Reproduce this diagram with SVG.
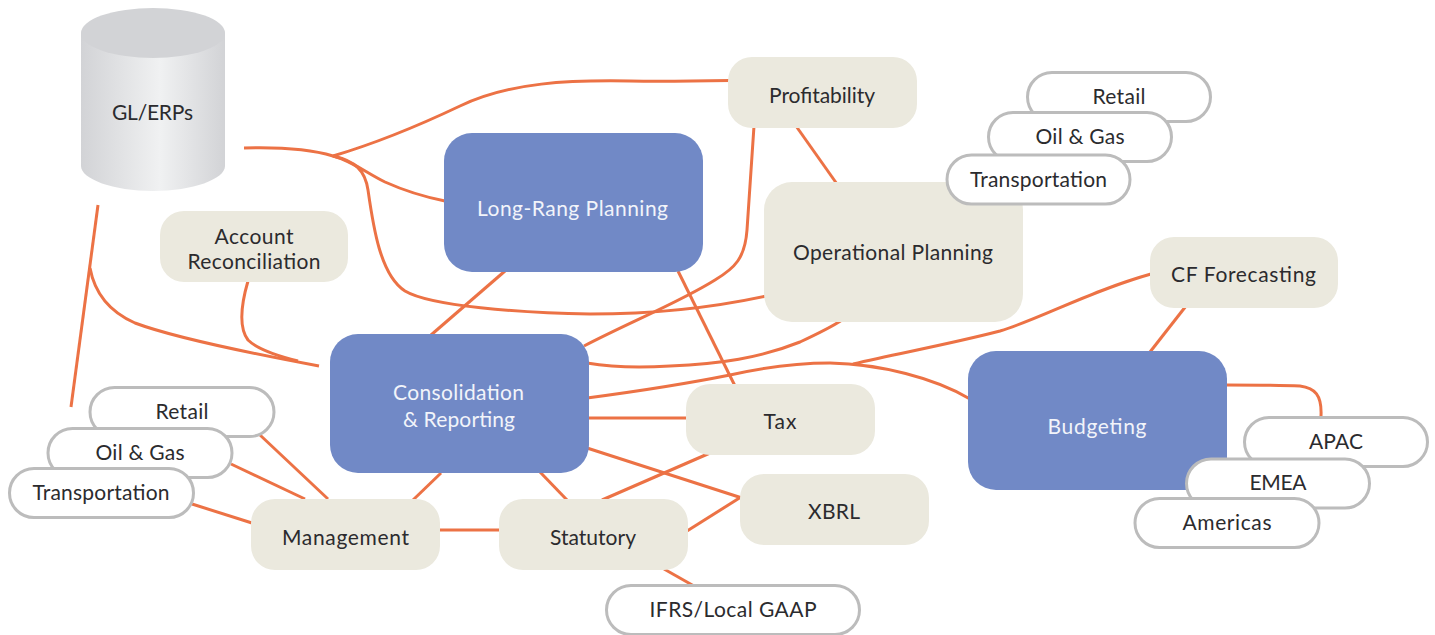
<svg xmlns="http://www.w3.org/2000/svg" width="1435" height="635" viewBox="0 0 1435 635">
<style>
text{font-family:"Lato","Noto Sans",sans-serif;font-size:21px;fill:#2b2b2e;text-anchor:middle}
.b rect{fill:#7189c6}
.b text{fill:#f2f4fa}
.t rect{fill:#ebe9de}
.p rect{fill:#fff;stroke:#bcbcbc;stroke-width:3}
#connectors path{fill:none;stroke:#ec7245;stroke-width:3}
</style>
<defs>
<linearGradient id="cyl" x1="0" x2="1" y1="0" y2="0">
<stop offset="0" stop-color="#d2d3d6"/><stop offset="0.55" stop-color="#f0f1f2"/><stop offset="1" stop-color="#d2d3d6"/>
</linearGradient>
</defs>
<g id="connectors">
<path d="M244 148C280 147 310 149 333 156C370 145 420 125 460 106C510 82 570 80 630 81C665 81.500 700 81 730 80.500"/>
<path d="M333 156C352 161 365 172 385 182C405 191 425 197 445 201"/>
<path d="M333 156C355 161 365 170 368 190C373 225 380 275 405 291C430 306 520 313 590 314C660 314 720 306 766 296"/>
<path d="M98 205L71 407"/>
<path d="M90 268C95 295 110 312 135 323C175 338 260 355 319 366"/>
<path d="M248 281C241 305 239 328 248 340C258 350 278 356 298 361"/>
<path d="M505 271L431 335"/>
<path d="M678 271L735 386"/>
<path d="M754 126L747 230C745 258 735 268 715 280C680 302 630 322 584 346"/>
<path d="M796 126L837 184"/>
<path d="M587 363C610 367 640 368 670 366C720 364 760 358 800 342C815 335 830 328 842 320"/>
<path d="M587 398C640 391 690 383 730 375C770 366 800 363 830 363C880 364 935 378 970 399"/>
<path d="M853 364C900 353 950 344 1000 331C1040 319 1090 291 1151 274"/>
<path d="M1186 306L1150 352"/>
<path d="M1226 385C1250 385 1280 385 1300 386C1315 388 1322 395 1321 416"/>
<path d="M587 418L688 418"/>
<path d="M587 448L742 498"/>
<path d="M710 453L602 500"/>
<path d="M540 472L567 500"/>
<path d="M441 473L413 500"/>
<path d="M438 530L500 530"/>
<path d="M687 531L741 497"/>
<path d="M664 569L694 586"/>
<path d="M260 435L328 499"/>
<path d="M231 464L305 499"/>
<path d="M192 504L252 523"/>
</g>
<g id="gl-erps">
<path d="M81 33V166C81 179 113 191 153 191C193 191 225 179 225 166V33Z" fill="url(#cyl)"/>
<ellipse cx="153" cy="33" rx="72" ry="25" fill="#d2d3d6"/>
<text x="152.500" y="120" textLength="81">GL/ERPs</text>
</g>
<g id="profitability" class="t"><rect x="728" y="57" width="189" height="71" rx="24"/><text x="822" y="103" textLength="106">Profitability</text></g>
<g id="long-range" class="b"><rect x="444" y="133" width="259" height="139" rx="28"/><text x="572.500" y="216" textLength="191">Long-Rang Planning</text></g>
<g id="operational" class="t"><rect x="764" y="182" width="259" height="140" rx="28"/><text x="893" y="260" textLength="200">Operational Planning</text></g>
<g id="op-retail" class="p"><rect x="1027.500" y="72.500" width="183" height="49" rx="24.500"/><text x="1119" y="104" textLength="53">Retail</text></g>
<g id="op-oil" class="p"><rect x="988.500" y="112.500" width="183" height="49" rx="24.500"/><text x="1080" y="144" textLength="89">Oil &amp; Gas</text></g>
<g id="op-transport" class="p"><rect x="947" y="155" width="183" height="49" rx="24.500"/><text x="1038.500" y="187" textLength="137">Transportation</text></g>
<g id="account" class="t"><rect x="160" y="211" width="188" height="71" rx="24"/><text x="254" y="244" textLength="79">Account</text><text x="254" y="269" textLength="133">Reconciliation</text></g>
<g id="cf" class="t"><rect x="1150" y="237" width="188" height="71" rx="24"/><text x="1243.500" y="282" textLength="145">CF Forecasting</text></g>
<g id="consolidation" class="b"><rect x="330" y="334" width="259" height="139" rx="28"/><text x="458.500" y="400" textLength="131">Consolidation</text><text x="459" y="427" textLength="112">&amp; Reporting</text></g>
<g id="budgeting" class="b"><rect x="968" y="351" width="259" height="139" rx="28"/><text x="1097" y="434" textLength="99">Budgeting</text></g>
<g id="tax" class="t"><rect x="686" y="384" width="189" height="71" rx="24"/><text x="780" y="429" textLength="33">Tax</text></g>
<g id="xbrl" class="t"><rect x="740" y="474" width="189" height="71" rx="24"/><text x="834" y="519" textLength="52">XBRL</text></g>
<g id="management" class="t"><rect x="251" y="499" width="189" height="71" rx="24"/><text x="345.500" y="545" textLength="127">Management</text></g>
<g id="statutory" class="t"><rect x="499" y="499" width="189" height="71" rx="24"/><text x="593" y="545" textLength="86">Statutory</text></g>
<g id="apac" class="p"><rect x="1244.500" y="417.500" width="183" height="49" rx="24.500"/><text x="1336" y="449" textLength="54">APAC</text></g>
<g id="emea" class="p"><rect x="1186.500" y="459" width="183" height="49" rx="24.500"/><text x="1278" y="490" textLength="57">EMEA</text></g>
<g id="americas" class="p"><rect x="1135" y="498.500" width="184" height="49" rx="24.500"/><text x="1227" y="530" textLength="89">Americas</text></g>
<g id="m-retail" class="p"><rect x="90" y="387.500" width="184" height="49" rx="24.500"/><text x="182" y="419" textLength="53">Retail</text></g>
<g id="m-oil" class="p"><rect x="48" y="428.500" width="184" height="49" rx="24.500"/><text x="140" y="460" textLength="89">Oil &amp; Gas</text></g>
<g id="m-transport" class="p"><rect x="9.500" y="468.500" width="184" height="49" rx="24.500"/><text x="101" y="500" textLength="137">Transportation</text></g>
<g id="ifrs" class="p"><rect x="606.500" y="585.500" width="253" height="49" rx="24.500"/><text x="733" y="617" textLength="167">IFRS/Local GAAP</text></g>
</svg>
